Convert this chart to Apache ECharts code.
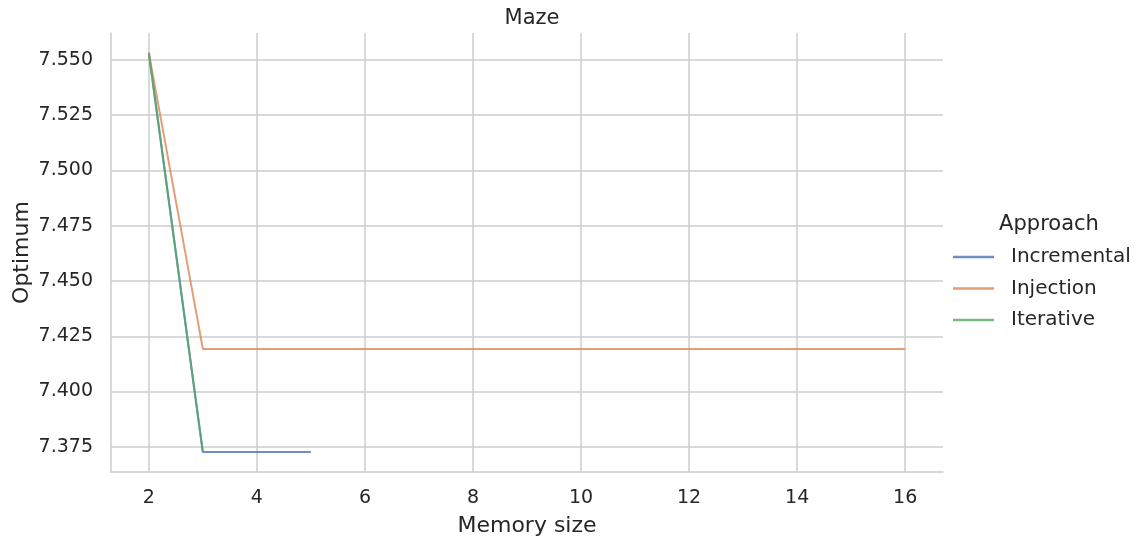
<!DOCTYPE html>
<html>
<head>
<meta charset="utf-8">
<script src="https://cdn.jsdelivr.net/npm/echarts@6/dist/echarts.min.js"></script>
<style>
html,body{margin:0;padding:0;background:#fff;}
#chart{width:1141px;height:539px;}
</style>
</head>
<body>
<div id="chart"></div>
<script>
const seriesNames = ['Incremental', 'Injection', 'Iterative'];
const incrementalData = [[2, 7.5532], [3, 7.3726], [4, 7.3726], [5, 7.3726]];
const injectionData = [[2, 7.5532], [3, 7.4193], [4, 7.4193], [5, 7.4193], [6, 7.4193], [7, 7.4193], [8, 7.4193], [9, 7.4193], [10, 7.4193], [11, 7.4193], [12, 7.4193], [13, 7.4193], [14, 7.4193], [15, 7.4193], [16, 7.4193]];
const iterativeData = [[2, 7.5532], [3, 7.3726]];
const xTicks = [2, 4, 6, 8, 10, 12, 14, 16];
const yTicks = [7.375, 7.400, 7.425, 7.450, 7.475, 7.500, 7.525, 7.550];
const colors = ['#4c72b0', '#dd8452', '#55a868'];

const font = 'DejaVu Sans';
const textColor = '#262626';
const gridColor = '#cccccc';

const chart = echarts.init(document.getElementById('chart'), null, {renderer: 'canvas'});
const dataList = [incrementalData, injectionData, iterativeData];

chart.setOption({
  animation: false,
  backgroundColor: '#ffffff',
  textStyle: {fontFamily: font},
  title: [
    {text: 'Maze', left: 527, top: 3, textAlign: 'center',
     textStyle: {fontFamily: font, fontSize: 21, fontWeight: 'normal', color: textColor}},
    {text: 'Approach', left: 1044, top: 209, textAlign: 'center',
     textStyle: {fontFamily: font, fontSize: 21, fontWeight: 'normal', color: textColor}}
  ],
  legend: {
    orient: 'vertical',
    left: 953,
    top: 245,
    padding: 0,
    icon: 'rect',
    itemWidth: 41,
    itemHeight: 2.5,
    itemGap: 7.5,
    textStyle: {fontFamily: font, fontSize: 20, lineHeight: 24, color: textColor, padding: [0, 0, 0, 12]},
    data: seriesNames
  },
  grid: {left: 111, right: 198, top: 33, bottom: 67, containLabel: false, outerBoundsMode: 'none'},
  xAxis: {
    type: 'value', min: 1.3, max: 16.7,
    name: 'Memory size', nameLocation: 'middle', nameGap: 43,
    nameTextStyle: {fontFamily: font, fontSize: 22, color: textColor},
    axisLine: {show: true, lineStyle: {color: gridColor, width: 1.5}},
    axisTick: {show: false, customValues: xTicks},
    axisLabel: {customValues: xTicks, fontFamily: font, fontSize: 19, color: textColor, margin: 17},
    splitLine: {show: true, lineStyle: {color: gridColor, width: 1.5}}
  },
  yAxis: {
    type: 'value', min: 7.3636, max: 7.5622,
    name: 'Optimum', nameLocation: 'middle', nameGap: 78, nameMoveOverlap: false,
    nameTextStyle: {fontFamily: font, fontSize: 22, color: textColor},
    axisLine: {show: true, lineStyle: {color: gridColor, width: 1.5}},
    axisTick: {show: false, customValues: yTicks},
    axisLabel: {customValues: yTicks, fontFamily: font, fontSize: 19, color: textColor, margin: 18,
      formatter: v => v.toFixed(3)},
    splitLine: {show: true, lineStyle: {color: gridColor, width: 1.5}}
  },
  series: seriesNames.map((n, i) => ({
    name: n, type: 'line', data: dataList[i],
    symbol: 'none', showSymbol: false,
    color: colors[i],
    lineStyle: {width: 2, color: colors[i], opacity: 0.8},
    itemStyle: {color: colors[i], opacity: 0.8},
    z: 2 + i
  }))
});
</script>
</body>
</html>
